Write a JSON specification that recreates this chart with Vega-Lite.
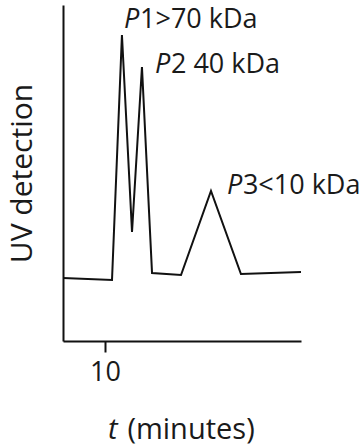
{
  "$schema": "https://vega.github.io/schema/vega-lite/v6.json",
  "width": 238,
  "height": 336,
  "autosize": {"type": "none"},
  "padding": {"left": 63, "top": 5, "right": 62, "bottom": 105},
  "background": "white",
  "config": {"view": {"stroke": null}, "font": "Open Sans"},
  "datasets": {
    "trace": [
      {"minutes": 7, "uv": 18.75},
      {"minutes": 10.5, "uv": 18.15},
      {"minutes": 11.21, "uv": 91.07},
      {"minutes": 11.93, "uv": 32.44},
      {"minutes": 12.64, "uv": 81.55},
      {"minutes": 13.36, "uv": 20.24},
      {"minutes": 15.43, "uv": 19.64},
      {"minutes": 17.57, "uv": 44.64},
      {"minutes": 19.71, "uv": 19.94},
      {"minutes": 24, "uv": 20.54}
    ],
    "italic": [
      {"minutes": 11.36, "uv": 93.2, "label": "P"},
      {"minutes": 13.57, "uv": 79.8, "label": "P"},
      {"minutes": 18.71, "uv": 43.8, "label": "P"}
    ],
    "plain": [
      {"minutes": 12.5, "uv": 93.2, "label": "1>70 kDa"},
      {"minutes": 14.71, "uv": 79.8, "label": "2 40 kDa"},
      {"minutes": 19.85, "uv": 43.8, "label": "3<10 kDa"}
    ],
    "xtitle_italic": [
      {"minutes": 10.21, "uv": -29.2, "label": "t"}
    ],
    "xtitle_plain": [
      {"minutes": 11.6, "uv": -29.2, "label": "(minutes)"}
    ]
  },
  "layer": [
    {
      "data": {"name": "trace"},
      "mark": {"type": "line", "color": "#111111", "strokeWidth": 2},
      "encoding": {
        "x": {
          "field": "minutes",
          "type": "quantitative",
          "scale": {"domain": [7, 24], "nice": false, "zero": false},
          "axis": {
            "values": [10],
            "title": null,
            "grid": false,
            "labelFontSize": 27,
            "labelColor": "#1a1a1a",
            "labelPadding": 7,
            "tickSize": 11,
            "tickWidth": 2,
            "tickColor": "#111111",
            "domainWidth": 2,
            "domainColor": "#111111"
          }
        },
        "y": {
          "field": "uv",
          "type": "quantitative",
          "scale": {"domain": [0, 100], "nice": false},
          "axis": {
            "title": "UV detection",
            "grid": false,
            "ticks": false,
            "labels": false,
            "domainWidth": 2,
            "domainColor": "#111111",
            "titleFontSize": 30,
            "titleFontWeight": "normal",
            "titleColor": "#1a1a1a",
            "titlePadding": 26
          }
        }
      }
    },
    {
      "data": {"name": "italic"},
      "mark": {"type": "text", "fontStyle": "italic", "align": "left", "baseline": "alphabetic", "fontSize": 27, "color": "#1a1a1a"},
      "encoding": {
        "x": {"field": "minutes", "type": "quantitative"},
        "y": {"field": "uv", "type": "quantitative"},
        "text": {"field": "label"}
      }
    },
    {
      "data": {"name": "plain"},
      "mark": {"type": "text", "align": "left", "baseline": "alphabetic", "fontSize": 27, "color": "#1a1a1a"},
      "encoding": {
        "x": {"field": "minutes", "type": "quantitative"},
        "y": {"field": "uv", "type": "quantitative"},
        "text": {"field": "label"}
      }
    },
    {
      "data": {"name": "xtitle_italic"},
      "mark": {"type": "text", "fontStyle": "italic", "align": "left", "baseline": "alphabetic", "fontSize": 29, "color": "#1a1a1a"},
      "encoding": {
        "x": {"field": "minutes", "type": "quantitative"},
        "y": {"field": "uv", "type": "quantitative"},
        "text": {"field": "label"}
      }
    },
    {
      "data": {"name": "xtitle_plain"},
      "mark": {"type": "text", "align": "left", "baseline": "alphabetic", "fontSize": 29, "color": "#1a1a1a"},
      "encoding": {
        "x": {"field": "minutes", "type": "quantitative"},
        "y": {"field": "uv", "type": "quantitative"},
        "text": {"field": "label"}
      }
    }
  ]
}
